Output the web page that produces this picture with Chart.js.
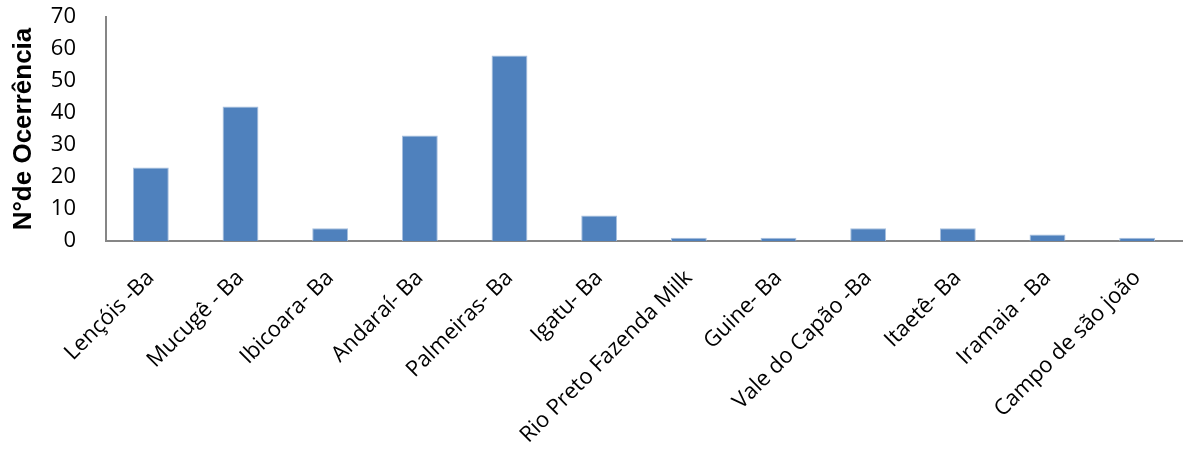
<!DOCTYPE html>
<html>
<head>
<meta charset="utf-8">
<script src="https://cdn.jsdelivr.net/npm/chart.js@4.4.0/dist/chart.umd.min.js"></script>
<style>
  html, body { margin: 0; padding: 0; background: #fff; }
  #wrap { width: 1183px; height: 452px; }
</style>
</head>
<body>
<div id="wrap"><canvas id="c" width="1183" height="452"></canvas></div>
<script>
// Ocorrências por localidade
const categories = [
  "Lençóis -Ba", "Mucugê - Ba", "Ibicoara- Ba", "Andaraí- Ba", "Palmeiras- Ba",
  "Igatu- Ba", "Rio Preto Fazenda Milk", "Guine- Ba", "Vale do Capão -Ba",
  "Itaetê- Ba", "Iramaia - Ba", "Campo de são joão"
];
const occurrences = [23, 42, 4, 33, 58, 8, 1, 1, 4, 4, 2, 1];
const yTicks = [0, 10, 20, 30, 40, 50, 60, 70];
const yTitle = "N°de Ocerrência";

const labelFont = "'Open Sans', 'Liberation Sans', sans-serif";

new Chart(document.getElementById("c"), {
  type: "bar",
  data: {
    labels: categories,
    datasets: [{
      data: occurrences,
      backgroundColor: "#4F81BD",
      borderColor: "#A7BFDE",
      borderWidth: { top: 1, left: 1, right: 1, bottom: 0 },
      categoryPercentage: 1.0,
      barPercentage: 0.4
    }]
  },
  options: {
    responsive: false,
    animation: false,
    layout: { padding: { top: 17, right: 1, left: 8, bottom: 0 } },
    plugins: { legend: { display: false }, tooltip: { enabled: false } },
    scales: {
      x: {
        grid: { display: false },
        border: { display: true, color: "#868686", width: 2 },
        ticks: {
          color: "#000",
          font: { family: labelFont, size: 22 },
          minRotation: 45,
          maxRotation: 45,
          padding: 16
        },
        afterFit: (s) => { s.height = 211; s.paddingLeft = 0; s.paddingRight = 0; }
      },
      y: {
        min: 0,
        max: 70,
        afterBuildTicks: (s) => { s.ticks = yTicks.map(v => ({ value: v })); },
        grid: { display: false },
        border: { display: true, color: "#868686", width: 2 },
        ticks: {
          color: "#000",
          font: { family: labelFont, size: 22 },
          padding: 22
        },
        title: {
          display: true,
          text: yTitle,
          color: "#000",
          font: { family: "'Liberation Sans', Arial, sans-serif", size: 26, weight: "bold" },
          padding: { top: 0, bottom: 0 }
        },
        afterFit: (s) => { s.width = 98; s.paddingTop = 0; s.paddingBottom = 0; }
      }
    }
  }
});
</script>
</body>
</html>
